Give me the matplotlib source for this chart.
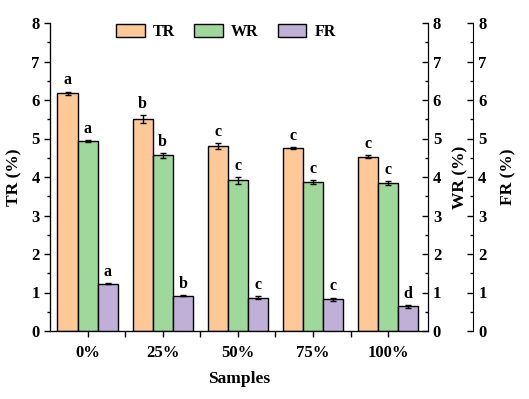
import matplotlib.pyplot as plt
import numpy as np
from matplotlib.ticker import MultipleLocator, FixedLocator

plt.rcParams['font.family'] = 'Liberation Serif'
plt.rcParams['font.weight'] = 'bold'
plt.rcParams['axes.labelweight'] = 'bold'

# Data
samples = ['0%', '25%', '50%', '75%', '100%']
tr = [6.17, 5.51, 4.81, 4.75, 4.53]
tr_err = [0.05, 0.10, 0.08, 0.03, 0.04]
wr = [4.93, 4.56, 3.91, 3.87, 3.84]
wr_err = [0.02, 0.07, 0.10, 0.05, 0.05]
fr = [1.23, 0.92, 0.86, 0.82, 0.64]
fr_err = [0.02, 0.02, 0.04, 0.05, 0.03]
tr_letters = ['a', 'b', 'c', 'c', 'c']
wr_letters = ['a', 'b', 'c', 'c', 'c']
fr_letters = ['a', 'b', 'c', 'c', 'd']

colors = ['#FFC897', '#9ED89B', '#C0B0D8']
width = 0.267
x = np.arange(len(samples))

fig = plt.figure(figsize=(5.29, 3.99), dpi=100)
ax = fig.add_axes([50 / 529, 68 / 399, 378 / 529, 308 / 399])
ax2 = ax.twinx()
ax3 = ax.twinx()
ax3.spines['right'].set_position(('axes', 1.12))

series = [(ax, tr, tr_err, tr_letters, -width, 'TR'),
          (ax2, wr, wr_err, wr_letters, 0, 'WR'),
          (ax3, fr, fr_err, fr_letters, width, 'FR')]

handles = []
for i, (a, vals, errs, letters, off, name) in enumerate(series):
    b = a.bar(x + off, vals, width, yerr=errs, color=colors[i], edgecolor='black',
              linewidth=1, label=name, capsize=2.5,
              error_kw=dict(elinewidth=1, capthick=1, ecolor='black'))
    handles.append(b)
    for xi, v, e, l in zip(x + off, vals, errs, letters):
        a.text(xi, v + e + 0.08, l, ha='center', va='bottom', fontsize=11.5, fontweight='bold')

for a in (ax, ax2, ax3):
    a.set_ylim(0, 8)
    a.yaxis.set_major_locator(MultipleLocator(1))
    a.yaxis.set_minor_locator(MultipleLocator(0.5))
    a.spines['top'].set_visible(False)
    a.tick_params(axis='y', which='major', length=4, width=1, labelsize=12)
    a.tick_params(axis='y', which='minor', length=2.5, width=1)
    for lab in a.get_yticklabels():
        lab.set_fontweight('bold')

ax.set_xlim(-0.5, 4.53)
ax.set_xticks(x)
ax.set_xticklabels(samples, fontsize=12, fontweight='bold')
ax.xaxis.set_minor_locator(FixedLocator(x[:-1] + 0.5))
ax.tick_params(axis='x', which='major', length=4, width=1, pad=6)
ax.tick_params(axis='x', which='minor', length=4, width=1)
ax.tick_params(axis='y', direction='out')
ax2.tick_params(axis='y', which='both', direction='in')
ax3.tick_params(axis='y', which='both', direction='in')

ax.set_ylabel('TR (%)', fontsize=12.5, labelpad=6)
ax2.set_ylabel('WR (%)', fontsize=12.5, labelpad=8)
ax3.set_ylabel('FR (%)', fontsize=12.5, labelpad=10)
ax.set_xlabel('Samples', fontsize=12.5, labelpad=7)

fig.legend(handles=handles, labels=['TR', 'WR', 'FR'], ncol=3, frameon=False,
           loc='center', bbox_to_anchor=(226 / 529, 1 - 32 / 399),
           handlelength=1.8, handleheight=0.9, columnspacing=1.2, handletextpad=0.5,
           prop={'weight': 'bold', 'size': 11.5})

fig.savefig('out.png', dpi=100)
